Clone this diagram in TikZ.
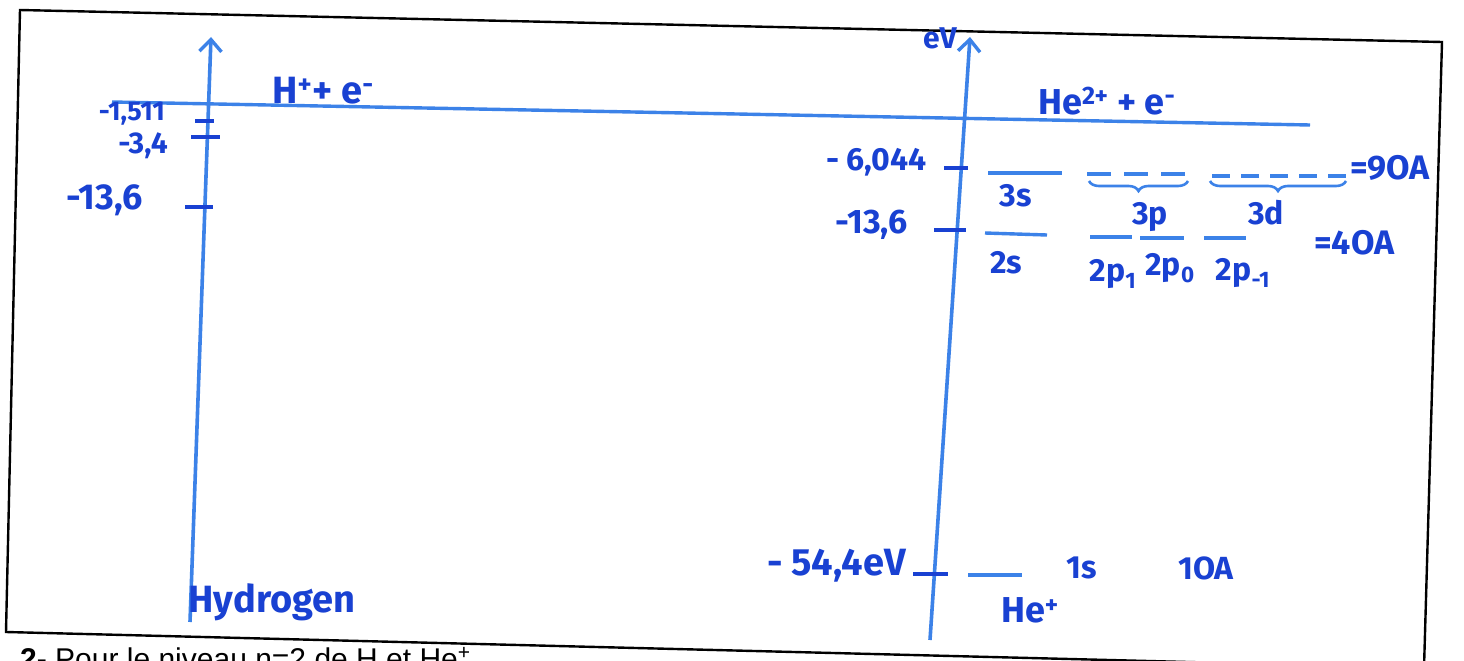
\documentclass[tikz,border=0pt]{standalone}
\usepackage{fontspec}
\setmainfont{Liberation Sans}
\newfontfamily\hw{Fira Sans}
\usetikzlibrary{arrows.meta,decorations.pathreplacing}
\definecolor{ink}{RGB}{25,65,210}
\definecolor{penline}{RGB}{60,130,232}
\tikzset{
  hw/.style={text=ink, font=\hw\bfseries\fontsize{#1}{#1}\selectfont, inner sep=0pt},
  hw/.default=30,
  axis/.style={draw=penline, line width=3.6pt, -{Straight Barb[length=12pt,width=22pt,line width=3.4pt]}},
  lvl/.style={draw=penline, line width=3.4pt},
  tickm/.style={draw=ink, line width=3.4pt},
  dsh/.style={draw=penline, line width=3.4pt},
  brc/.style={draw=penline, line width=2.6pt, decorate, decoration={brace, mirror, amplitude=10pt}},
  frame/.style={draw=black, line width=2.4pt}
}
\begin{document}
\begin{tikzpicture}[x=1pt,y=-1pt]
\clip (0,0) rectangle (1464,661);
\fill[white] (0,0) rectangle (1464,661);
% frame of the scanned box
\draw[frame] (20,10) -- (1442,42) -- (1424,668) -- (6,632) -- cycle;
% bottom (cut) text
\node[anchor=base west, font=\fontsize{30}{30}\selectfont, inner sep=0] (q) at (20,669) {\textbf{2-} Pour le niveau n=2 de H et He\textsuperscript{+}};

% ---------- Hydrogen ----------
\coordinate (hb) at (190,622);
\coordinate (ht) at (211,37);
\draw[axis] (hb) -- (ht);
\coordinate (lineL) at (112,102);
\coordinate (lineR) at (1310,125);
\draw[lvl] (lineL) -- (lineR);
\coordinate (t1a) at (195,121); \coordinate (t1b) at (214,121);
\coordinate (t2a) at (191,137); \coordinate (t2b) at (220,137);
\coordinate (t3a) at (185,207); \coordinate (t3b) at (213,207);
\draw[tickm] (t1a) -- (t1b);
\draw[tickm] (t2a) -- (t2b);
\draw[tickm] (t3a) -- (t3b);
\node[hw=27, anchor=east] (l1) at (165,114) {-1,511};
\node[hw=30, anchor=east] (l2) at (168,146) {-3,4};
\node[hw=36, anchor=east] (l3) at (143,200) {-13,6};
\node[hw=38, anchor=base west] (hp) at (272,103) {H\textsuperscript{+}+ e\textsuperscript{-}};
\node[hw=38] (hyd) at (272,602) {Hydrogen};

% ---------- Helium ----------
\coordinate (eb) at (930,640);
\coordinate (et) at (970,37);
\draw[axis] (eb) -- (et);
\node[hw=30] (ev) at (940,38) {eV};
\node[hw=36, anchor=base west] (hep) at (1038,114) {He\textsuperscript{2+} + e\textsuperscript{-}};

\coordinate (k1a) at (944,168); \coordinate (k1b) at (968,168);
\coordinate (k2a) at (934,230); \coordinate (k2b) at (966,230);
\coordinate (k3a) at (913,574); \coordinate (k3b) at (948,574);
\draw[tickm] (k1a) -- (k1b);
\draw[tickm] (k2a) -- (k2b);
\draw[tickm] (k3a) -- (k3b);
\node[hw=32, anchor=east] (e1) at (927,162) {- 6,044};
\node[hw=34, anchor=east] (e2) at (908,225) {-13,6};
\node[hw=38, anchor=east] (e3) at (906,566) {- 54,4eV};

% n = 3
\coordinate (s3a) at (988,173); \coordinate (s3b) at (1062,173);
\draw[lvl] (s3a) -- (s3b);
\coordinate (p3a) at (1087,174); \coordinate (p3b) at (1185,174);
\draw[dsh, dash pattern=on 24pt off 13pt] (p3a) -- (p3b);
\coordinate (d3a) at (1212,176); \coordinate (d3b) at (1346,176);
\draw[dsh, dash pattern=on 18pt off 11pt] (d3a) -- (d3b);
\node[hw=34, anchor=west] (n3) at (1350,168) {=9OA};
\draw[brc] (1089,181) -- (1188,181);
\draw[brc] (1210,181) -- (1346,181);
\node[hw=32] (s3) at (1016,196) {3s};
\node[hw=32] (p3) at (1150,217) {3p};
\node[hw=32] (d3) at (1266,213) {3d};

% n = 2
\coordinate (s2a) at (985,233); \coordinate (s2b) at (1047,235);
\draw[lvl] (s2a) -- (s2b);
\coordinate (pa1) at (1090,237); \coordinate (pa2) at (1132,237);
\coordinate (pb1) at (1140,238); \coordinate (pb2) at (1184,238);
\coordinate (pc1) at (1204,238); \coordinate (pc2) at (1246,238);
\draw[lvl] (pa1) -- (pa2);
\draw[lvl] (pb1) -- (pb2);
\draw[lvl] (pc1) -- (pc2);
\node[hw=34, anchor=west] (n2) at (1314,243) {=4OA};
\node[hw=32] (s2) at (1006,263) {2s};
\node[hw=32] (pp1) at (1113,274) {2p\textsubscript{1}};
\node[hw=32] (pp0) at (1170,268) {2p\textsubscript{0}};
\node[hw=32] (ppm) at (1243,273) {2p\textsubscript{-1}};

% n = 1
\coordinate (s1a) at (968,575); \coordinate (s1b) at (1022,575);
\draw[lvl] (s1a) -- (s1b);
\node[hw=32] (s1) at (1082,568) {1s};
\node[hw=32] (n1) at (1206,568) {1OA};
\node[hw=36] (hep1) at (1030,610) {He\textsuperscript{+}};
\end{tikzpicture}
\end{document}
